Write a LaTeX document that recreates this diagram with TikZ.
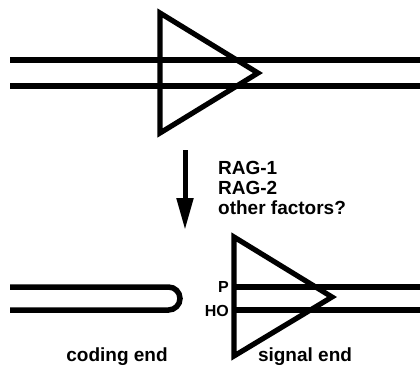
\documentclass[tikz,border=0pt]{standalone}
\usepackage{fontspec}
\setmainfont{Liberation Sans}
\usetikzlibrary{arrows.meta}

\begin{document}
\begin{tikzpicture}[x=1pt, y=-1pt,
    strand/.style={line width=5.5pt},
    rss/.style={line width=5.2pt, line join=miter},
    lbl/.style={font=\fontsize{19}{20}\selectfont\bfseries, inner sep=0pt},
    endlbl/.style={font=\fontsize{16}{16}\selectfont\bfseries, inner sep=0pt}]
    \useasboundingbox (0,0) rectangle (420,373);
    % ── Intact DNA with signal sequence ──────────────────────────────
    \foreach \yy in {60, 86}{
      \draw[strand] (10,\yy) -- (420,\yy);
    }
    \draw[rss] (160,13) -- (258,73) -- (160,133) -- cycle;

    % ── Cleavage step ────────────────────────────────────────────────
    \coordinate (cuttop) at (185,150);
    \coordinate (cuttip) at (185,230);
    \draw[-{Triangle[length=32pt,width=16pt]}, line width=5pt] (cuttop) -- (cuttip);
    \node[lbl, align=left, anchor=north west] (factors) at (218,161)
      {RAG-1\\RAG-2\\other factors?};

    % ── Coding end (hairpin) ─────────────────────────────────────────
    \draw[strand] (10,287) -- (168.5,287)
      arc[start angle=-90, end angle=90, radius=11.5] -- (10,310);
    \node[lbl, anchor=base] (coding) at (117,361) {coding end};

    % ── Signal end ───────────────────────────────────────────────────
    \foreach \yy in {287, 310}{
      \draw[strand] (234,\yy) -- (420,\yy);
    }
    \draw[rss] (234,237) -- (332,297) -- (234,356) -- cycle;
    \node[endlbl, anchor=east] (phos) at (229,287) {P};
    \node[endlbl, anchor=east] (hydroxyl) at (229,311) {HO};
    \node[lbl, anchor=base] (signal) at (305,361) {signal end};
  \end{tikzpicture}
\end{document}
